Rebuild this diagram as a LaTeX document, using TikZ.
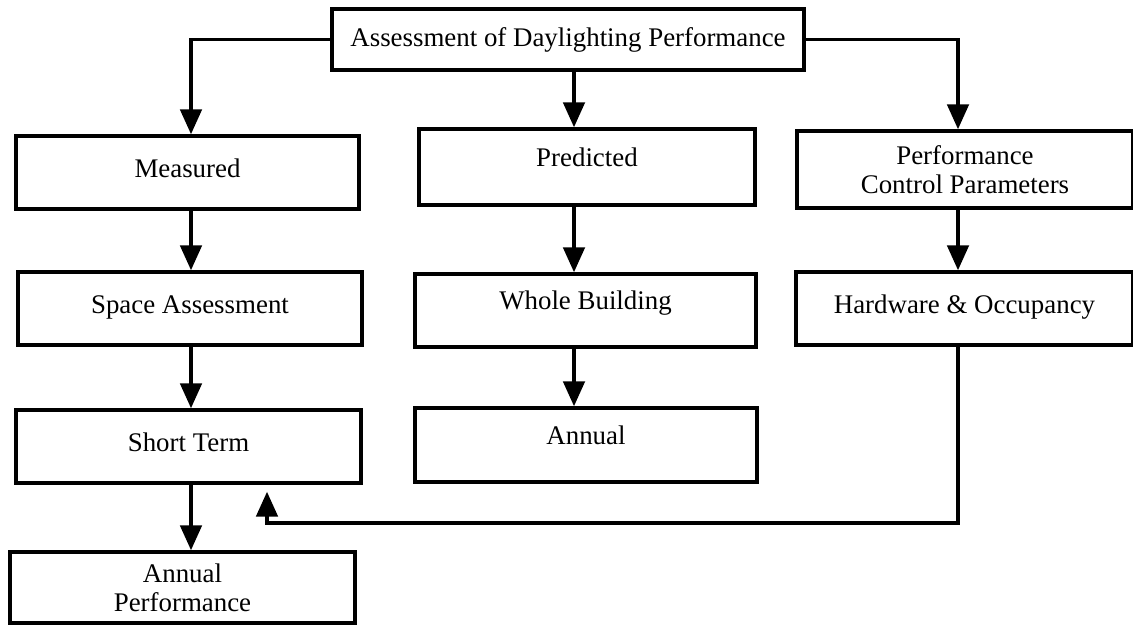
\documentclass[tikz,border=0pt]{standalone}
\usepackage{fontspec}
\setmainfont{Liberation Serif}
\usepackage{tikz}
\usetikzlibrary{arrows.meta, positioning, calc}
\tikzset{>={Triangle[width=0.43cm,length=0.5cm]}}
\tikzset{
  box/.style={draw, line width=2pt, inner sep=0pt, align=center,
    font=\fontsize{15.3pt}{16.5pt}\selectfont},
  onebox/.style={box, text height=0.4cm, text depth=0.21cm},
  midbox/.style={box, text height=0.4cm, text depth=0.43cm},
}

\begin{document}
\begin{tikzpicture}[x=0.02cm, y=-0.02cm, line width=2pt]
  \useasboundingbox (0,0) rectangle (1133,625);
  % columns of the arrows
  \coordinate (colA) at (191,0);
  \coordinate (colB) at (574,0);
  \coordinate (colC) at (958,0);
  \coordinate (fb)   at (267,523);

  \node[box]	(Top)	at (568,39.5)	[minimum width=9.44cm, minimum height=1.22cm] {Assessment of Daylighting Performance};
  \node[onebox]	(Meas)	at (187.5,172.5)	[minimum width=6.86cm, minimum height=1.46cm] {Measured};
  \node[midbox]	(Pred)	at (587,167)	[minimum width=6.72cm, minimum height=1.52cm] {Predicted};
  \node[box]	(Perf)	at (965,169.5)	[minimum width=6.72cm, minimum height=1.54cm] {Performance\\Control Parameters};
  \node[onebox]	(Space)	at (190,308.5)	[minimum width=6.88cm, minimum height=1.46cm] {Space Assessment};
  \node[midbox]	(Whole)	at (585.5,310.5)	[minimum width=6.82cm, minimum height=1.46cm] {Whole Building};
  \node[onebox]	(HW)	at (964.5,308.5)	[minimum width=6.74cm, minimum height=1.46cm] {Hardware \& Occupancy};
  \node[onebox]	(Short)	at (188.5,446.5)	[minimum width=6.9cm, minimum height=1.46cm] {Short Term};
  \node[midbox]	(Ann)	at (586,445)	[minimum width=6.84cm, minimum height=1.48cm] {Annual};
  \node[box]	(AnnPerf)	at (182.5,587.5)	[minimum width=6.9cm, minimum height=1.42cm] {Annual\\Performance};

  \draw[->] (Top.west) -| (Meas.north -| colA);
  \draw[->] (Top.south -| colB) -- (Pred.north -| colB);
  \draw[->] (Top.east) -| (Perf.north -| colC);
  \draw[->] (Meas.south -| colA) -- (Space.north -| colA);
  \draw[->] (Space.south -| colA) -- (Short.north -| colA);
  \draw[->] (Short.south -| colA) -- (AnnPerf.north -| colA);
  \draw[->] (Pred.south -| colB) -- (Whole.north -| colB);
  \draw[->] (Whole.south -| colB) -- (Ann.north -| colB);
  \draw[->] (Perf.south -| colC) -- (HW.north -| colC);
  \draw[->, shorten >=0.14cm] (HW.south -| colC) |- (fb) -- (fb |- Short.south);
\end{tikzpicture}
\end{document}
